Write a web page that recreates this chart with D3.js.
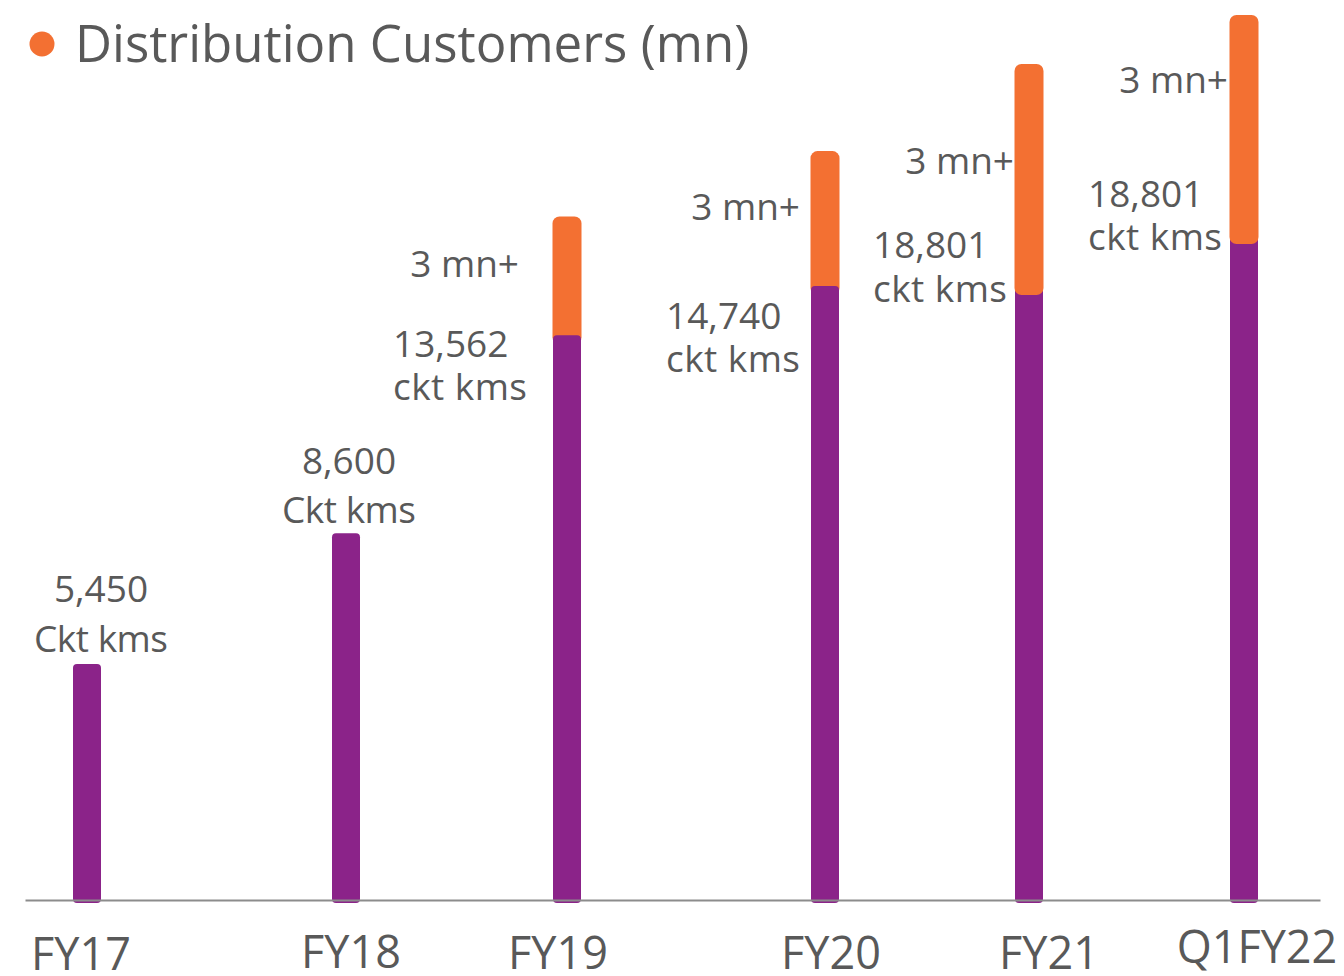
<!DOCTYPE html>
<html>
<head>
<meta charset="utf-8">
<script src="https://cdn.jsdelivr.net/npm/d3@7"></script>
<style>
  html, body { margin: 0; padding: 0; background: #fff; }
  svg { display: block; }
  text { font-family: "Open Sans", "Noto Sans", sans-serif; fill: #595959; }
</style>
</head>
<body>
<svg id="chart" width="1344" height="976"></svg>
<script>
// ---- data ----
const categories = ["FY17", "FY18", "FY19", "FY20", "FY21", "Q1FY22"];
// network length bar (purple), in scale units
const networkBar = [5600, 8700, 13400, 14570, 14570, 15780];
// distribution customers bar (orange) stacked on top
const customerBar = [0, 0, 2820, 3200, 5270, 5220];
const networkValueLabels = ["5,450", "8,600", "13,562", "14,740", "18,801", "18,801"];
const networkUnitLabels = ["Ckt kms", "Ckt kms", "ckt kms", "ckt kms", "ckt kms", "ckt kms"];
const customerLabels = ["", "", "3 mn+", "3 mn+", "3 mn+", "3 mn+"];
const legendLabel = "Distribution Customers (mn)";

// ---- layout ----
const svg = d3.select("#chart");
const colors = { purple: "#8B2389", orange: "#F37032", axis: "#8c8c8c", text: "#595959" };

const x = d3.scaleOrdinal().domain(categories).range([87, 346, 567, 825, 1029, 1244]);
const y = d3.scaleLinear().domain([0, 21000]).range([900, 15]);
const barW = 28;
const orangeOnTop = d3.scaleOrdinal().domain(categories).range([false, false, false, false, true, true]);

const data = categories.map((c, i) => ({
  cat: c, net: networkBar[i], cust: customerBar[i],
  v: networkValueLabels[i], u: networkUnitLabels[i], cl: customerLabels[i]
}));

function drawOrange(sel) {
  sel.attr("x", d => x(d.cat) - barW / 2 - 0.5)
    .attr("y", d => y(d.net + d.cust))
    .attr("width", barW + 1)
    .attr("height", d => y(d.net) - y(d.net + d.cust) + 9)
    .attr("rx", 7)
    .attr("fill", colors.orange);
}

// orange bars beneath purple
svg.append("g").selectAll("rect")
  .data(data.filter(d => d.cust > 0 && !orangeOnTop(d.cat))).join("rect").call(drawOrange);

// purple bars
svg.append("g").selectAll("rect").data(data).join("rect")
  .attr("x", d => x(d.cat) - barW / 2)
  .attr("y", d => y(d.net))
  .attr("width", barW)
  .attr("height", d => y(0) - y(d.net) + 3)
  .attr("rx", 4)
  .attr("fill", colors.purple);

// orange bars above purple
svg.append("g").selectAll("rect")
  .data(data.filter(d => d.cust > 0 && orangeOnTop(d.cat))).join("rect").call(drawOrange);

// baseline axis
const axisScale = d3.scaleLinear().domain([0, 1]).range([25, 1320]);
const axisG = svg.append("g").attr("transform", `translate(0,${y(0)})`)
  .call(d3.axisBottom(axisScale).ticks(0).tickSize(0).tickFormat(""));
axisG.select(".domain").attr("stroke", colors.axis).attr("stroke-width", 2);

// category labels
const catOffset = d3.scaleOrdinal().domain(categories).range([-6, 5, -9, 6, 20, 13]);
const catBaseline = d3.scaleOrdinal().domain(categories).range([970, 968, 969, 969, 969, 963]);
svg.append("g").selectAll("text").data(data).join("text")
  .attr("x", d => x(d.cat) + catOffset(d.cat))
  .attr("y", d => catBaseline(d.cat))
  .attr("text-anchor", "middle")
  .attr("font-size", 45)
  .text(d => d.cat);

// network labels
const netLabelPos = d3.scaleOrdinal().domain(categories).range([
  { x: 101, a: "middle", y1: 602, y2: 652 },
  { x: 349, a: "middle", y1: 474, y2: 523 },
  { x: 393, a: "start", y1: 357, y2: 400 },
  { x: 666, a: "start", y1: 329, y2: 372 },
  { x: 873, a: "start", y1: 258, y2: 302 },
  { x: 1088, a: "start", y1: 207, y2: 250 }
]);
const nl = svg.append("g").selectAll("g").data(data).join("g");
nl.append("text")
  .attr("x", d => netLabelPos(d.cat).x)
  .attr("y", d => netLabelPos(d.cat).y1)
  .attr("text-anchor", d => netLabelPos(d.cat).a)
  .attr("font-size", 37)
  .text(d => d.v);
nl.append("text")
  .attr("x", d => netLabelPos(d.cat).x)
  .attr("y", d => netLabelPos(d.cat).y2)
  .attr("text-anchor", d => netLabelPos(d.cat).a)
  .attr("font-size", 37)
  .attr("textLength", 134)
  .text(d => d.u);

// customer labels
const custPos = d3.scaleOrdinal().domain(categories).range([
  { r: 0, y: 0 }, { r: 0, y: 0 },
  { r: 519, y: 277 }, { r: 800, y: 220 }, { r: 1014, y: 174 }, { r: 1228, y: 93 }
]);
svg.append("g").selectAll("text").data(data.filter(d => d.cl)).join("text")
  .attr("x", d => custPos(d.cat).r)
  .attr("y", d => custPos(d.cat).y)
  .attr("text-anchor", "end")
  .attr("font-size", 37)
  .text(d => d.cl);

// legend
svg.append("circle").attr("cx", 42).attr("cy", 44).attr("r", 12.5).attr("fill", colors.orange);
svg.append("text").attr("x", 75).attr("y", 62).attr("font-size", 51).text(legendLabel);
</script>
</body>
</html>
